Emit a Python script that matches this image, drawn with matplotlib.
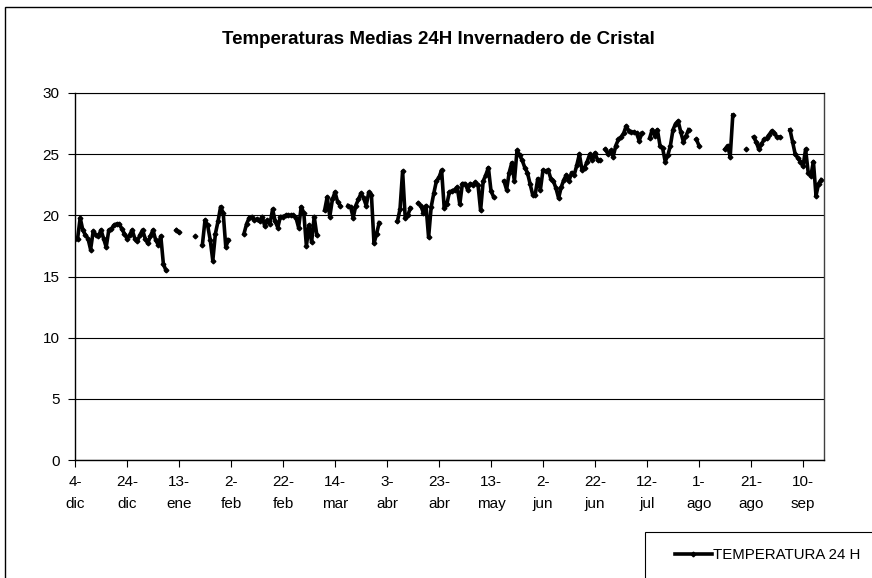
import numpy as np
import pandas as pd
import matplotlib
matplotlib.use("Agg")
import matplotlib.pyplot as plt
from matplotlib.patches import Rectangle

plt.rcParams['font.family'] = ['Liberation Sans', 'DejaVu Sans']

nan = np.nan

# daily mean temperature (24 h), starting on 4-dic; nan = no reading
temps = [
    18.1, 18.1, 19.8, 18.8, 18.4, 18.1, 17.2, 18.7, 18.4, 18.3,   # 0
    18.8, 18.1, 17.4, 18.8, 18.9, 19.2, 19.3, 19.3, 18.9, 18.5,   # 10
    18.1, 18.4, 18.8, 18.1, 17.9, 18.4, 18.8, 18.1, 17.7, 18.3,   # 20
    18.8, 18.0, 17.6, 18.3, 16.0, 15.5, nan, nan, nan, 18.8,      # 30
    18.6, nan, nan, nan, nan, nan, 18.3, nan, nan, 17.6,          # 40
    19.6, 19.2, 18.0, 16.3, 18.5, 19.5, 20.7, 20.2, 17.4, 18.0,   # 50
    nan, nan, nan, nan, nan, 18.5, 19.3, 19.8, 19.9, 19.6,        # 60
    19.7, 19.5, 19.9, 19.1, 19.6, 19.3, 20.5, 19.5, 19.0, 19.9,   # 70
    19.9, 20.0, 20.0, 20.0, 20.0, 19.8, 19.0, 20.7, 20.2, 17.5,   # 80
    19.2, 17.8, 19.9, 18.4, nan, nan, 20.4, 21.5, 19.9, 21.3,     # 90
    21.9, 21.1, 20.8, nan, nan, 20.8, 20.7, 19.8, 20.8, 21.3,     # 100
    21.8, 21.4, 20.8, 21.9, 21.7, 17.7, 18.5, 19.4, nan, nan,     # 110
    nan, nan, nan, nan, 19.5, 20.5, 23.6, 19.8, 20.0, 20.6,       # 120
    nan, nan, 21.0, 20.8, 20.2, 20.8, 18.2, 20.7, 21.8, 22.8,     # 130
    23.1, 23.7, 20.6, 20.9, 21.9, 22.0, 22.1, 22.3, 20.9, 22.6,   # 140
    22.6, 22.1, 22.6, 22.5, 22.7, 22.5, 20.4, 22.8, 23.3, 23.9,   # 150
    22.0, 21.5, nan, nan, nan, 22.8, 22.1, 23.5, 24.3, 22.8,      # 160
    25.3, 24.9, 24.5, 23.9, 23.5, 22.6, 21.7, 21.7, 23.0, 22.1,   # 170
    23.7, 23.6, 23.7, 23.0, 22.8, 22.2, 21.4, 22.3, 22.9, 23.3,   # 180
    22.8, 23.5, 23.3, 24.1, 25.0, 23.7, 23.9, 24.4, 25.0, 24.5,   # 190
    25.1, 24.5, 24.5, nan, 25.4, 25.0, 25.3, 24.8, 25.7, 26.2,    # 200
    26.4, 26.7, 27.3, 26.9, 26.8, 26.8, 26.7, 26.1, 26.7, nan,    # 210
    nan, 26.3, 27.0, 26.5, 27.0, 25.7, 25.5, 24.4, 24.9, 25.7,    # 220
    27.0, 27.5, 27.7, 26.8, 26.0, 26.5, 27.0, nan, nan, 26.2,     # 230
    25.7, nan, nan, nan, nan, nan, nan, nan, nan, nan,            # 240
    25.4, 25.7, 24.8, 28.2, nan, nan, nan, nan, 25.4, nan,        # 250
    nan, 26.4, 26.0, 25.4, 25.8, 26.2, 26.3, 26.6, 26.9, 26.7,    # 260
    26.4, 26.4, nan, nan, nan, 27.0, 26.0, 25.0, 24.7, 24.4,      # 270
    24.0, 25.4, 23.5, 23.2, 24.4, 21.6, 22.6, 22.9,               # 280
]
start_date = '2006-12-04'
tick_labels = ['4-\ndic', '24-\ndic', '13-\nene', '2-\nfeb', '22-\nfeb', '14-\nmar',
               '3-\nabr', '23-\nabr', '13-\nmay', '2-\njun', '22-\njun', '12-\njul',
               '1-\nago', '21-\nago', '10-\nsep']
y_ticks = [0, 5, 10, 15, 20, 25, 30]

dates = pd.date_range(start_date, periods=len(temps), freq='D')
tick_dates = dates[::20]

fig = plt.figure(figsize=(8.72, 5.78), dpi=100)
ax = fig.add_axes([75 / 872, 1 - 460 / 578, 748.8 / 872, 367 / 578])

line, = ax.plot(dates, temps, color='black', lw=2.6, marker='D', ms=2.4,
                mfc='black', mec='black', solid_joinstyle='round')

ax.set_xlim(dates[0], dates[0] + pd.Timedelta(days=288))
ax.set_ylim(0, 30)
ax.set_yticks(y_ticks)
ax.set_xticks(tick_dates)
ax.set_xticklabels(tick_labels, fontsize=11, linespacing=1.7)
ax.tick_params(axis='y', labelsize=11, length=5, width=0.8, pad=6)
ax.tick_params(axis='x', length=5, width=0.8, pad=6, colors='black')
ax.grid(axis='y', color='black', lw=0.8)
ax.set_axisbelow(True)
ax.spines['top'].set_linewidth(0.8)
ax.spines['right'].set_color('#404040')
ax.spines['right'].set_linewidth(1.0)
ax.spines['left'].set_linewidth(1.0)
ax.spines['bottom'].set_linewidth(1.0)

fig.text(438 / 872, 1 - 40 / 578, 'Temperaturas Medias 24H Invernadero de Cristal',
         ha='center', va='center', fontsize=13.5, fontweight='bold')

# outer chart border
fig.patches.append(Rectangle((5 / 872, -0.1), 1.1, 1 - 7 / 578 + 0.1,
                             transform=fig.transFigure, fill=False,
                             ec='black', lw=1.0, clip_on=False))
# legend box, cut by the edge of the picture
fig.patches.append(Rectangle((645 / 872, -0.1), 1.0, 0.1 + 1 - 532 / 578,
                             transform=fig.transFigure, fill=False,
                             ec='black', lw=0.8, clip_on=False))
fig.legend([line], ['TEMPERATURA 24 H'], loc='center left',
           bbox_to_anchor=(667 / 872, 1 - 555 / 578), frameon=False,
           fontsize=10.8, handlelength=2.5, handletextpad=0.05, borderpad=0)

fig.savefig('out.png', dpi=100)
